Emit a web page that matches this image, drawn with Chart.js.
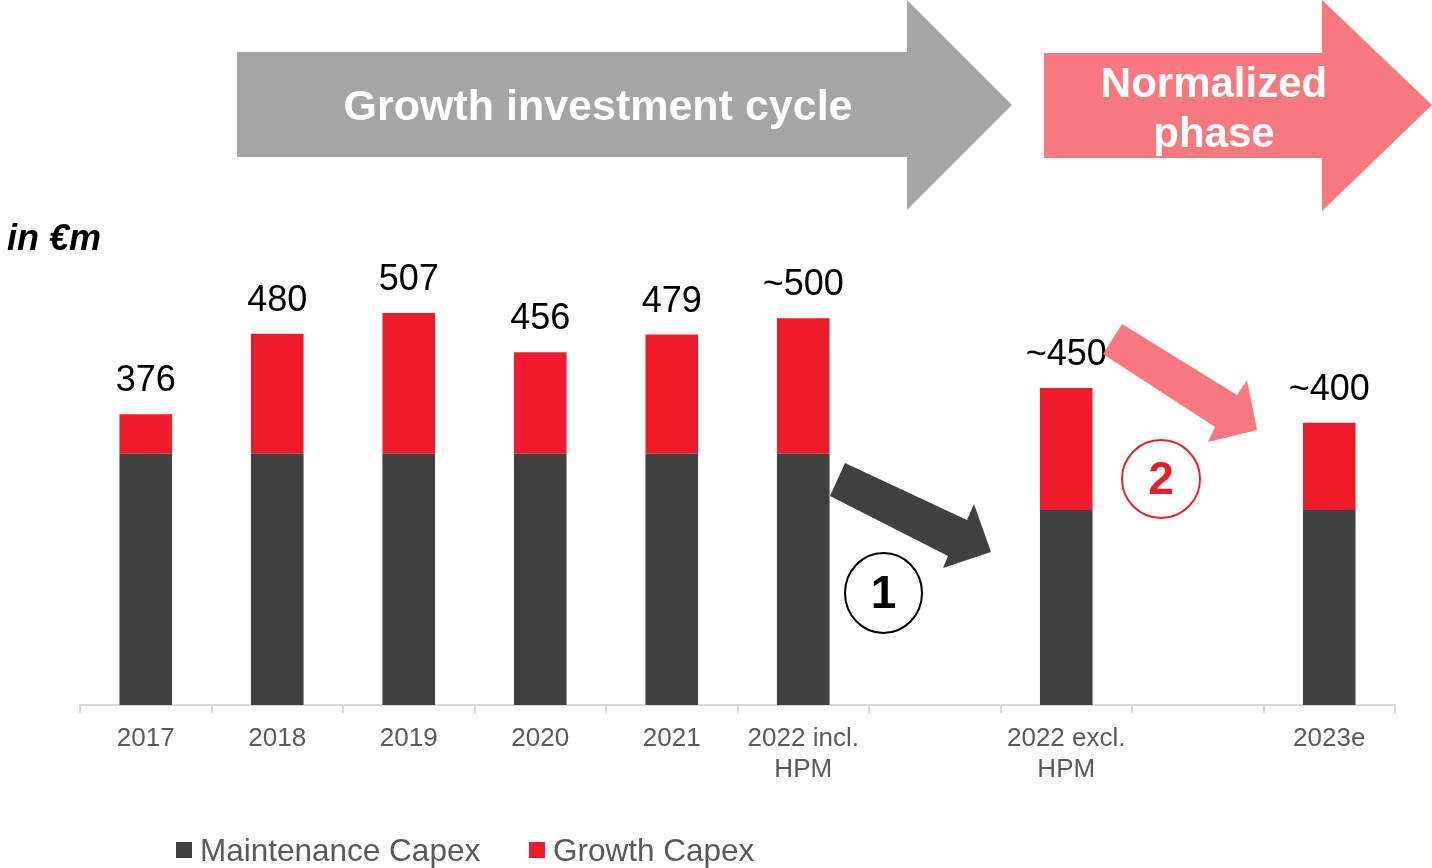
<!DOCTYPE html>
<html>
<head>
<meta charset="utf-8">
<script src="https://cdn.jsdelivr.net/npm/chart.js@4.4.1/dist/chart.umd.min.js"></script>
<style>
html, body { margin: 0; padding: 0; background: #fff; }
</style>
</head>
<body>
<canvas id="myChart" width="1432" height="868"></canvas>
<script>
const categories = ['2017', '2018', '2019', '2020', '2021', ['2022 incl.', 'HPM'], '', ['2022 excl.', 'HPM'], '', '2023e'];
const maintenance = [325, 325, 325, 325, 325, 325, null, 252, null, 252];
const growth = [51, 155, 182, 131, 154, 175, null, 158, null, 113];
const totalLabels = ['376', '480', '507', '456', '479', '~500', '', '~450', '', '~400'];

const FONT = '"Liberation Sans", Arial, sans-serif';
const DARK = '#404040';
const RED = '#EE1C2B';
const PINK = '#F7787F';
const GREY = '#A5A5A5';

function poly(c, pts, color) {
  c.beginPath();
  c.moveTo(pts[0][0], pts[0][1]);
  for (let i = 1; i < pts.length; i++) c.lineTo(pts[i][0], pts[i][1]);
  c.closePath();
  c.fillStyle = color;
  c.fill();
}

// header arrows, circles, legend, value labels
const decor = {
  id: 'decor',
  afterDatasetsDraw(chart) {
    const c = chart.ctx;
    c.save();
    c.fillStyle = '#000';
    c.font = '36px ' + FONT;
    c.textAlign = 'center';
    c.textBaseline = 'alphabetic';
    const meta = chart.getDatasetMeta(1);
    meta.data.forEach((bar, i) => {
      if (!totalLabels[i]) return;
      c.fillText(totalLabels[i], bar.x, bar.y - 23);
    });
    c.restore();
  },
  afterDraw(chart) {
    const c = chart.ctx;
    c.save();
    poly(c, [[237, 52], [907, 52], [907, 0], [1012, 105], [907, 210], [907, 157], [237, 157]], GREY);
    poly(c, [[1044, 53], [1322, 53], [1322, 0], [1432, 105], [1322, 211], [1322, 158], [1044, 158]], PINK);

    c.fillStyle = '#fff';
    c.font = 'bold 43px ' + FONT;
    c.textAlign = 'center';
    c.fillText('Growth investment cycle', 598, 120);
    c.font = 'bold 42px ' + FONT;
    c.fillText('Normalized', 1214, 97);
    c.fillText('phase', 1214, 147);

    c.textAlign = 'left';
    c.fillStyle = '#000';
    c.font = 'italic bold 36px ' + FONT;
    c.fillText('in €m', 7, 250);

    // transition arrows
    poly(c, [[845, 463], [967, 520], [974, 504], [991, 552], [943, 568], [948, 556], [830, 496]], DARK);
    poly(c, [[1122, 324], [1237, 395], [1247, 380], [1257, 430], [1208, 442], [1215, 427], [1103, 354]], PINK);

    // numbered circles
    c.lineWidth = 2;
    c.beginPath();
    c.ellipse(883.5, 593, 38.5, 40, 0, 0, Math.PI * 2);
    c.fillStyle = '#fff';
    c.fill();
    c.strokeStyle = '#000';
    c.stroke();
    c.beginPath();
    c.ellipse(1161, 479, 39, 39, 0, 0, Math.PI * 2);
    c.fill();
    c.strokeStyle = RED;
    c.stroke();
    c.font = 'bold 46px ' + FONT;
    c.textAlign = 'center';
    c.textBaseline = 'middle';
    c.fillStyle = '#000';
    c.fillText('1', 883.5, 595);
    c.fillStyle = RED;
    c.fillText('2', 1161, 481);

    // legend
    c.textAlign = 'left';
    c.textBaseline = 'alphabetic';
    c.font = '31.5px ' + FONT;
    c.fillStyle = DARK;
    c.fillRect(176, 842, 16, 16);
    c.fillStyle = '#595959';
    c.fillText('Maintenance Capex', 200, 861);
    c.fillStyle = RED;
    c.fillRect(529, 842, 16, 16);
    c.fillStyle = '#595959';
    c.fillText('Growth Capex', 553, 861);
    c.restore();
  }
};

new Chart(document.getElementById('myChart'), {
  type: 'bar',
  data: {
    labels: categories,
    datasets: [
      { label: 'Maintenance Capex', data: maintenance, backgroundColor: DARK },
      { label: 'Growth Capex', data: growth, backgroundColor: RED }
    ]
  },
  options: {
    responsive: false,
    animation: false,
    layout: { padding: { top: 241, left: 80, right: 37, bottom: 0 } },
    datasets: { bar: { categoryPercentage: 1, barPercentage: 0.4 } },
    plugins: { legend: { display: false }, tooltip: { enabled: false } },
    scales: {
      x: {
        stacked: true,
        afterFit: s => { s.height = 163; },
        grid: { drawOnChartArea: false, color: '#D9D9D9', lineWidth: 2, tickLength: 8 },
        border: { color: '#D9D9D9', width: 2 },
        ticks: {
          color: '#595959', autoSkip: false, maxRotation: 0, padding: 10,
          font: { family: FONT, size: 26, lineHeight: 1.2 }
        }
      },
      y: { stacked: true, display: false, min: 0, max: 600 }
    }
  },
  plugins: [decor]
});
</script>
</body>
</html>
